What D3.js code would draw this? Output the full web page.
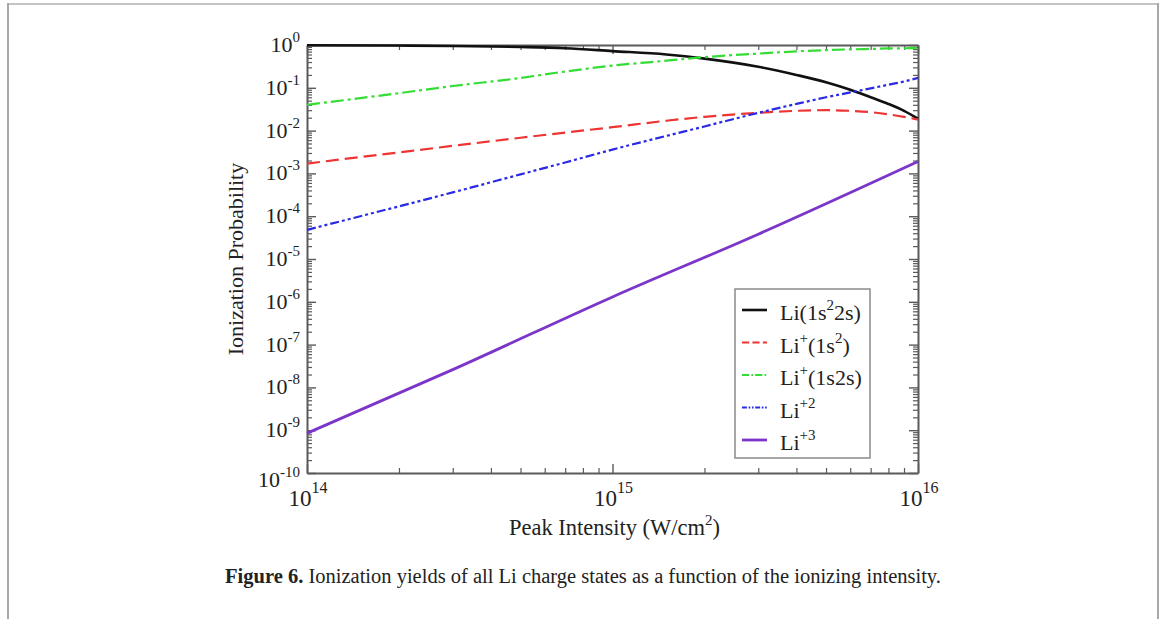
<!DOCTYPE html>
<html>
<head>
<meta charset="utf-8">
<script src="https://cdn.jsdelivr.net/npm/d3@7"></script>
<style>
  body { margin: 0; background: #fff; }
  text { font-family: "Liberation Serif", "DejaVu Serif", serif; fill: #222; }
</style>
</head>
<body>
<div id="chart"></div>
<script>
// Intensity grid (W/cm^2) shared by the curved series
var intensity = [1e14, 2e14, 3e14, 5e14, 7e14, 1e15, 1.5e15, 2e15, 3e15, 4e15, 5e15, 6e15, 7e15, 8e15, 9e15, 1e16];

// Ionization probability
var liNeutral = [0.99, 0.97, 0.95, 0.9, 0.84, 0.72, 0.6, 0.48, 0.31, 0.2, 0.135, 0.09, 0.06, 0.042, 0.029, 0.019];
var liPlusGround = [0.0017, 0.0031, 0.0044, 0.0068, 0.009, 0.012, 0.017, 0.021, 0.026, 0.029, 0.03, 0.029, 0.027, 0.024, 0.021, 0.018];
var liPlusExcited = [0.04, 0.075, 0.11, 0.17, 0.24, 0.33, 0.43, 0.52, 0.63, 0.71, 0.76, 0.79, 0.81, 0.83, 0.84, 0.85];
var liPlus2 = [4.8e-5, 1.7e-4, 3.6e-4, 9.5e-4, 1.8e-3, 3.6e-3, 7.5e-3, 0.0125, 0.026, 0.042, 0.06, 0.078, 0.097, 0.118, 0.14, 0.17];

// Li+3 is a straight line on log-log axes, read at a few points
var intensityLi3 = [1e14, 3e14, 1e15, 3e15, 1e16];
var liPlus3 = [8.5e-10, 2.6e-8, 1.3e-6, 3.8e-5, 1.9e-3];

// Tick decades
var yDecades = [0, -1, -2, -3, -4, -5, -6, -7, -8, -9, -10];
var xDecades = [14, 15, 16];

// Legend labels as [text, superscript?] pieces
var legendLabels = [
  [["Li(1s", false], ["2", true], ["2s)", false]],
  [["Li", false], ["+", true], ["(1s", false], ["2", true], [")", false]],
  [["Li", false], ["+", true], ["(1s2s)", false]],
  [["Li", false], ["+2", true]],
  [["Li", false], ["+3", true]]
];

var seriesStyle = [
  { color: "#111", dash: null, width: 2.6 },
  { color: "#ee3333", dash: "13,6", width: 2.2 },
  { color: "#33dd33", dash: "13,4,3,4", width: 2.2 },
  { color: "#2a2ae6", dash: "9,3,3,3,3,3", width: 2.2 },
  { color: "#7b35c9", dash: null, width: 2.8 }
];

var svgWidth = 1165;
var svgHeight = 619;

var margin = { top: 45, right: 247, bottom: 146, left: 307 };
var width = svgWidth - margin.left - margin.right;
var height = svgHeight - margin.top - margin.bottom;

var svg = d3.select("#chart")
  .append("svg")
  .attr("width", svgWidth)
  .attr("height", svgHeight);

// page frame
svg.append("line").attr("x1", 8).attr("x2", 1158).attr("y1", 4).attr("y2", 4)
  .attr("stroke", "#c4c4c4").attr("stroke-width", 2);
svg.append("line").attr("x1", 8).attr("x2", 8).attr("y1", 3).attr("y2", 619)
  .attr("stroke", "#a8a8a8").attr("stroke-width", 2);
svg.append("line").attr("x1", 1158).attr("x2", 1158).attr("y1", 3).attr("y2", 619)
  .attr("stroke", "#a8a8a8").attr("stroke-width", 2);

var chartGroup = svg.append("g")
  .attr("transform", `translate(${margin.left}, ${margin.top})`);

var xScale = d3.scaleLog().domain([1e14, 1e16]).range([0, width]);
var yScale = d3.scaleLog().domain([1e-10, 1]).range([height, 0]);

// tick values
var xMinor = [];
[1e14, 1e15].forEach(b => { for (var k = 2; k <= 9; k++) xMinor.push(b * k); });
var yMinor = [];
yDecades.slice(0, -1).forEach(d => { for (var k = 2; k <= 9; k++) yMinor.push(Math.pow(10, d - 1) * k); });
var xMajor = xDecades.map(d => Math.pow(10, d));
var yMajor = yDecades.map(d => Math.pow(10, d));

var axisColor = "#5a5a5a";

function tickAxis(axis, values, size) {
  return axis.tickValues(values).tickSize(size).tickFormat("");
}

// inward-pointing ticks on all four sides
var axes = [
  { gen: () => d3.axisBottom(xScale), t: `translate(0, ${height})`, major: xMajor, minor: xMinor },
  { gen: () => d3.axisTop(xScale), t: "translate(0, 0)", major: xMajor, minor: xMinor },
  { gen: () => d3.axisLeft(yScale), t: "translate(0, 0)", major: yMajor, minor: yMinor },
  { gen: () => d3.axisRight(yScale), t: `translate(${width}, 0)`, major: yMajor, minor: yMinor }
];
axes.forEach(a => {
  var gMinor = chartGroup.append("g").attr("transform", a.t)
    .call(tickAxis(a.gen(), a.minor, -5));
  gMinor.select(".domain").remove();
  gMinor.selectAll("line").attr("stroke", axisColor).attr("stroke-width", 1.2);
});
axes.forEach(a => {
  var gMajor = chartGroup.append("g").attr("transform", a.t)
    .call(tickAxis(a.gen(), a.major, -9).tickSizeOuter(0));
  gMajor.select(".domain").attr("stroke", axisColor).attr("stroke-width", 2);
  gMajor.selectAll("line").attr("stroke", axisColor).attr("stroke-width", 1.4);
});

// y tick labels 10^n
var yLabels = chartGroup.append("g").selectAll("text")
  .data(yDecades)
  .join("text")
  .attr("x", -7)
  .attr("y", d => yScale(Math.pow(10, d)) + (d === -10 ? 14 : 7))
  .attr("text-anchor", "end")
  .attr("font-size", "22px");
yLabels.append("tspan").text("10");
yLabels.append("tspan").attr("dy", -10).attr("font-size", "15px").text(d => d);

// x tick labels 10^n
var xLabels = chartGroup.append("g").selectAll("text")
  .data(xDecades)
  .join("text")
  .attr("x", d => xScale(Math.pow(10, d)) + 1)
  .attr("y", height + 33)
  .attr("text-anchor", "middle")
  .attr("font-size", "23px");
xLabels.append("tspan").text("10");
xLabels.append("tspan").attr("dy", -13).attr("font-size", "16px").text(d => d);

// axis titles
var xTitle = chartGroup.append("text")
  .attr("x", xScale(1e15) + 2)
  .attr("y", height + 62)
  .attr("text-anchor", "middle")
  .attr("font-size", "22.5px");
xTitle.append("tspan").text("Peak Intensity (W/cm");
xTitle.append("tspan").attr("dy", -10).attr("font-size", "15px").text("2");
xTitle.append("tspan").attr("dy", 10).text(")");

chartGroup.append("text")
  .attr("transform", `translate(-64, ${height / 2}) rotate(-90)`)
  .attr("text-anchor", "middle")
  .attr("font-size", "22px")
  .text("Ionization Probability");

// data lines
var series = [
  intensity.map((x, i) => [x, liNeutral[i]]),
  intensity.map((x, i) => [x, liPlusGround[i]]),
  intensity.map((x, i) => [x, liPlusExcited[i]]),
  intensity.map((x, i) => [x, liPlus2[i]]),
  intensityLi3.map((x, i) => [x, liPlus3[i]])
];

var line = d3.line()
  .x(d => xScale(d[0]))
  .y(d => yScale(d[1]))
  .curve(d3.curveMonotoneX);

chartGroup.append("g").selectAll("path")
  .data(series)
  .join("path")
  .attr("d", line)
  .attr("fill", "none")
  .attr("stroke", (d, i) => seriesStyle[i].color)
  .attr("stroke-width", (d, i) => seriesStyle[i].width)
  .attr("stroke-dasharray", (d, i) => seriesStyle[i].dash);

// legend
var legend = svg.append("g").attr("transform", "translate(735, 289)");
legend.append("rect")
  .attr("width", 135).attr("height", 169)
  .attr("fill", "#fff").attr("stroke", "#8a8a8a").attr("stroke-width", 1.5);

var rows = legend.selectAll("g.row")
  .data(legendLabels)
  .join("g")
  .attr("class", "row")
  .attr("transform", (d, i) => `translate(0, ${21 + i * 32.5})`);

rows.append("line")
  .attr("x1", 7).attr("x2", 32)
  .attr("stroke", (d, i) => seriesStyle[i].color)
  .attr("stroke-width", (d, i) => seriesStyle[i].width)
  .attr("stroke-dasharray", (d, i) => seriesStyle[i].dash ? seriesStyle[i].dash.split(",").map(v => v * 0.55).join(",") : null);

rows.append("text")
  .attr("x", 45).attr("y", 10)
  .attr("font-size", "22px")
  .each(function(parts) {
    var t = d3.select(this);
    var raised = false;
    parts.forEach(p => {
      var dy = 0;
      if (p[1] && !raised) { dy = -10; raised = true; }
      else if (!p[1] && raised) { dy = 10; raised = false; }
      t.append("tspan").attr("dy", dy).attr("font-size", p[1] ? "15px" : null).text(p[0]);
    });
  });

// caption
var caption = svg.append("text")
  .attr("x", 583).attr("y", 583)
  .attr("text-anchor", "middle")
  .attr("font-size", "20.5px");
caption.append("tspan").attr("font-weight", "bold").text("Figure 6.");
caption.append("tspan").text(" Ionization yields of all Li charge states as a function of the ionizing intensity.");
</script>
</body>
</html>
